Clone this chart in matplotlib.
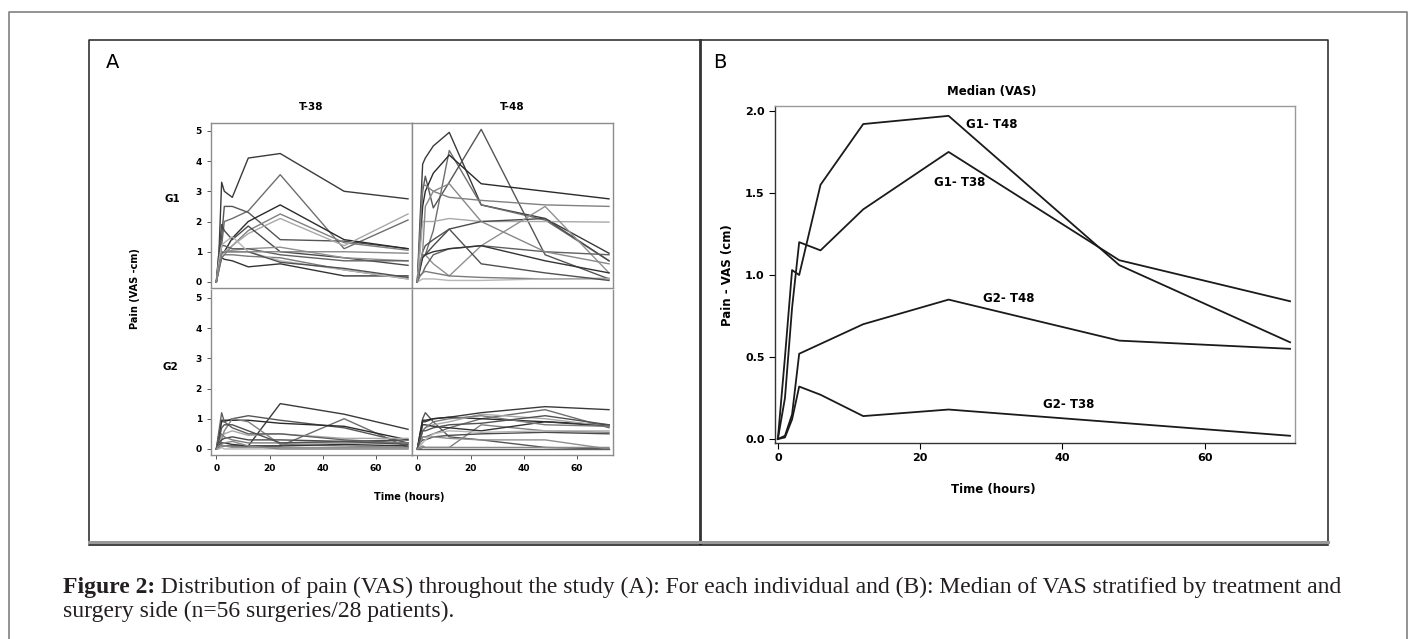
import matplotlib
matplotlib.use("Agg")
import matplotlib.pyplot as plt

W, H = 1414, 639

# time points (hours)
times = [0, 1, 2, 3, 6, 12, 24, 48, 72]

# Panel A: individual VAS curves
g1_t38 = [
    [0, 1.0, 3.3, 3.0, 2.8, 4.1, 4.25, 3.0, 2.75],
    [0, 0.5, 1.2, 2.0, 2.1, 2.35, 3.55, 1.1, 2.05],
    [0, 0.8, 1.5, 2.5, 2.5, 2.3, 1.4, 1.35, 1.1],
    [0, 0.6, 1.0, 1.0, 1.45, 2.0, 2.55, 1.4, 1.1],
    [0, 0.4, 0.8, 0.9, 1.2, 1.7, 2.25, 1.3, 1.05],
    [0, 0.5, 0.9, 1.0, 1.2, 1.6, 2.1, 1.2, 2.25],
    [0, 1.0, 1.9, 1.7, 1.4, 1.85, 1.0, 0.8, 0.55],
    [0, 0.5, 1.0, 1.0, 1.05, 1.1, 1.15, 0.8, 0.7],
    [0, 0.6, 1.2, 1.2, 1.1, 1.1, 0.9, 0.7, 0.7],
    [0, 0.5, 0.8, 0.75, 0.7, 0.5, 0.6, 0.2, 0.2],
    [0, 0.4, 0.8, 0.9, 0.9, 0.85, 0.8, 0.4, 0.1],
    [0, 0.7, 1.2, 1.3, 1.5, 1.0, 0.7, 0.4, 0.1],
    [0, 0.5, 0.95, 1.0, 1.0, 1.0, 0.65, 0.45, 0.15],
    [0, 0.5, 1.0, 1.0, 1.0, 1.0, 1.0, 1.0, 0.95],
]
g1_t48 = [
    [0, 2.0, 3.9, 4.1, 4.5, 4.95, 2.55, 2.1, 0.95],
    [0, 0.5, 0.9, 0.9, 1.7, 4.35, 2.55, 2.05, 0.7],
    [0, 1.5, 3.0, 3.5, 2.45, 3.3, 5.05, 0.9, 0.1],
    [0, 1.2, 2.5, 3.0, 3.6, 4.2, 3.25, 3.0, 2.75],
    [0, 1.6, 3.2, 3.2, 3.0, 2.8, 2.7, 2.55, 2.5],
    [0, 1.0, 2.0, 2.0, 2.0, 2.1, 2.0, 2.0, 1.98],
    [0, 0.5, 0.9, 0.9, 1.2, 1.75, 2.0, 2.1, 0.7],
    [0, 0.5, 0.9, 0.9, 0.6, 0.2, 1.2, 2.5, 0.3],
    [0, 0.2, 0.3, 0.5, 0.9, 1.1, 1.2, 1.0, 0.9],
    [0, 0.4, 0.8, 0.9, 1.0, 1.1, 1.2, 0.7, 0.3],
    [0, 0.2, 0.3, 0.35, 0.3, 0.2, 0.15, 0.1, 0.12],
    [0, 0.05, 0.1, 0.1, 0.1, 0.05, 0.05, 0.1, 0.1],
    [0, 0.5, 1.0, 1.2, 1.4, 1.75, 0.6, 0.3, 0.05],
    [0, 0.6, 1.0, 2.5, 3.0, 3.25, 2.0, 1.0, 0.6],
]
g2_t38 = [
    [0, 0.05, 0.1, 0.1, 0.1, 0.1, 1.5, 1.15, 0.65],
    [0, 0.05, 0.1, 0.1, 0.1, 0.1, 0.1, 1.0, 0.05],
    [0, 0.4, 0.9, 0.9, 1.0, 1.1, 0.95, 0.7, 0.2],
    [0, 0.5, 0.95, 0.95, 0.95, 0.95, 0.85, 0.75, 0.3],
    [0, 0.1, 0.3, 0.6, 1.0, 0.9, 0.15, 0.1, 0.05],
    [0, 0.2, 0.4, 0.5, 0.6, 0.45, 0.5, 0.35, 0.35],
    [0, 0.2, 0.3, 0.35, 0.4, 0.3, 0.3, 0.25, 0.3],
    [0, 0.05, 0.1, 0.1, 0.05, 0.05, 0.05, 0.05, 0.05],
    [0, 0.6, 1.2, 0.9, 0.7, 0.5, 0.5, 0.3, 0.2],
    [0, 0.1, 0.2, 0.2, 0.15, 0.1, 0.1, 0.15, 0.1],
    [0, 0.3, 0.5, 0.4, 0.3, 0.2, 0.2, 0.2, 0.2],
    [0, 0.0, 0.05, 0.0, 0.0, 0.0, 0.0, 0.0, 0.0],
    [0, 0.3, 0.7, 0.8, 0.8, 0.6, 0.2, 0.25, 0.15],
    [0, 0.1, 0.15, 0.2, 0.25, 0.1, 0.0, 0.0, 0.0],
]
g2_t48 = [
    [0, 0.4, 0.9, 0.9, 1.0, 1.05, 1.2, 1.4, 1.3],
    [0, 0.2, 0.4, 0.4, 0.5, 0.7, 1.0, 1.3, 0.7],
    [0, 0.5, 1.0, 1.2, 0.9, 0.4, 0.3, 0.05, 0.0],
    [0, 0.5, 0.95, 0.95, 1.0, 1.05, 1.0, 0.9, 0.8],
    [0, 0.0, 0.05, 0.05, 0.05, 0.05, 0.8, 0.6, 0.55],
    [0, 0.3, 0.6, 0.7, 0.8, 0.9, 1.15, 1.0, 0.75],
    [0, 0.2, 0.3, 0.3, 0.4, 0.45, 0.5, 0.55, 0.5],
    [0, 0.2, 0.4, 0.4, 0.4, 0.35, 0.3, 0.3, 0.0],
    [0, 0, 0, 0, 0, 0, 0, 0, 0],
    [0, 0.4, 0.8, 0.8, 0.75, 0.7, 0.6, 0.9, 0.75],
    [0, 0.3, 0.6, 0.7, 0.9, 1.0, 1.1, 0.8, 0.75],
    [0, 0.1, 0.2, 0.3, 0.5, 0.6, 0.55, 0.6, 0.6],
    [0, 0.3, 0.6, 0.6, 0.7, 0.8, 0.85, 1.1, 0.8],
    [0, 0.05, 0.1, 0.05, 0.05, 0.05, 0.05, 0.05, 0.05],
]

# Panel B: medians
median_labels = ["G1- T48", "G1- T38", "G2- T48", "G2- T38"]
median_g1_t48 = [0, 0.5, 1.03, 1.0, 1.55, 1.92, 1.97, 1.06, 0.59]
median_g1_t38 = [0, 0.25, 0.8, 1.2, 1.15, 1.4, 1.75, 1.09, 0.84]
median_g2_t48 = [0, 0.02, 0.15, 0.52, 0.58, 0.70, 0.85, 0.60, 0.55]
median_g2_t38 = [0, 0.01, 0.12, 0.32, 0.27, 0.14, 0.18, 0.10, 0.02]

grays = ["#3a3a3a", "#6e6e6e", "#555555", "#2a2a2a", "#808080", "#a8a8a8",
         "#4a4a4a", "#909090", "#606060", "#333333", "#7a7a7a", "#b5b5b5",
         "#505050", "#888888"]

NARROW = ["Liberation Sans Narrow", "DejaVu Sans"]
SERIF = ["Liberation Serif", "DejaVu Serif"]


def box(l, t, r, b):
    return [l / W, 1 - b / H, (r - l) / W, (b - t) / H]


def ftext(x, y, s, **kw):
    # text placed by pixel position, drawn on top of all axes
    return fig.text(x / W, 1 - y / H, s, **kw)


fig = plt.figure(figsize=(W / 100, H / 100), dpi=100)

# overlay for frames (pixel coordinates)
ov = fig.add_axes([0, 0, 1, 1], zorder=-1)
ov.set_xlim(0, W)
ov.set_ylim(H, 0)
ov.axis("off")

# outer border
ov.plot([9, 9, 1407, 1407], [H + 5, 12, 12, H + 5], color="#8a8a8a", lw=1.3)
# panel box
ov.plot([89, 89, 1328, 1328], [543, 40, 40, 543], color="#222222", lw=1.1)
ov.plot([700, 700], [40, 543], color="#333333", lw=2.0)
ov.plot([89, 1328], [542, 542], color="#999999", lw=2.2)
ov.plot([89, 1328], [545, 545], color="#111111", lw=1.1)

ftext(106, 63, "A", fontsize=14, family="DejaVu Sans", va="center", ha="left")
ftext(713, 63, "B", fontsize=14, family="DejaVu Sans", va="center", ha="left")

# ---- Panel A ----
cols = [(211, 412), (412, 613)]
rows = [(123, 288), (290, 455)]
panel_data = [[g1_t38, g1_t48], [g2_t38, g2_t48]]
frame_c = "#8c8c8c"
for ri, (top, bot) in enumerate(rows):
    for ci, (left, right) in enumerate(cols):
        ax = fig.add_axes(box(left, top, right, bot))
        for k, series in enumerate(panel_data[ri][ci]):
            ax.plot(times, series, color=grays[k % len(grays)], lw=1.0)
        ax.set_xlim(-2, 73.5)
        ax.set_ylim(-0.2, 5.26)
        ax.set_yticks([0, 1, 2, 3, 4, 5])
        ax.set_xticks([0, 20, 40, 60])
        for s in ax.spines.values():
            s.set_color(frame_c)
            s.set_linewidth(1.0)
        if ri == 1:
            ax.spines["top"].set_visible(False)
        ax.tick_params(direction="out", length=3, width=0.7, color="#555555",
                       labelsize=6.5)
        for lab in ax.get_xticklabels() + ax.get_yticklabels():
            lab.set_fontweight("bold")
            lab.set_family(NARROW)
        if ci == 1:
            ax.tick_params(axis="y", left=False, labelleft=False)
        if ri == 0:
            ax.tick_params(axis="x", bottom=False, labelbottom=False)

ftext(311.5, 107, "T-38", fontsize=7.5, weight="bold", family=NARROW, ha="center", va="center")
ftext(512.5, 107, "T-48", fontsize=7.5, weight="bold", family=NARROW, ha="center", va="center")
ftext(172, 199, "G1", fontsize=7.5, weight="bold", family=NARROW, ha="center", va="center")
ftext(170, 367, "G2", fontsize=7.5, weight="bold", family=NARROW, ha="center", va="center")
ftext(135, 289, "Pain (VAS -cm)", fontsize=7, weight="bold", family=NARROW,
      rotation=90, ha="center", va="center")
ftext(409, 497, "Time (hours)", fontsize=7, weight="bold", family=NARROW,
      ha="center", va="center")

# ---- Panel B ----
axb = fig.add_axes(box(775, 106, 1295, 443))
medians = [median_g1_t48, median_g1_t38, median_g2_t48, median_g2_t38]
for series in medians:
    axb.plot(times, series, color="#1a1a1a", lw=1.3)
axb.set_xlim(-0.4, 72.7)
axb.set_ylim(-0.024, 2.03)
axb.set_xticks([0, 20, 40, 60])
axb.set_yticks([0.0, 0.5, 1.0, 1.5, 2.0])
axb.set_yticklabels(["0.0", "0.5", "1.0", "1.5", "2.0"])
for side in ["top", "right"]:
    axb.spines[side].set_color("#9a9a9a")
for side in ["left", "bottom"]:
    axb.spines[side].set_color("#333333")
for s in axb.spines.values():
    s.set_linewidth(1.0)
axb.tick_params(direction="out", length=4, width=0.8, labelsize=8)
for lab in axb.get_xticklabels() + axb.get_yticklabels():
    lab.set_fontweight("bold")
    lab.set_family(NARROW)

label_pos = [(992, 124), (960, 182), (1009, 298), (1069, 405)]
for name, (lx, ly) in zip(median_labels, label_pos):
    ftext(lx, ly, name, fontsize=8.5, weight="bold", family=NARROW,
          ha="center", va="center")

ftext(992, 92, "Median (VAS)", fontsize=8.5, weight="bold", family=NARROW,
      ha="center", va="center")
ftext(727, 275, "Pain - VAS (cm)", fontsize=8.5, weight="bold", family=NARROW,
      rotation=90, ha="center", va="center")
ftext(993, 490, "Time (hours)", fontsize=8.5, weight="bold", family=NARROW,
      ha="center", va="center")

# ---- Caption ----
cap_size = 17
rest1 = (" Distribution of pain (VAS) throughout the study (A): For each individual"
         " and (B): Median of VAS stratified by treatment and")
t1 = ov.text(63, 587, "Figure 2:", fontsize=cap_size, weight="bold", family=SERIF,
             va="center", ha="left", color="#231f20")
fig.canvas.draw()
ext = t1.get_window_extent(fig.canvas.get_renderer())
x_after = ext.x1  # overlay data x equals pixel x
ov.text(x_after, 587, rest1, fontsize=cap_size, family=SERIF,
        va="center", ha="left", color="#231f20")
ov.text(63, 611, "surgery side (n=56 surgeries/28 patients).", fontsize=cap_size,
        family=SERIF, va="center", ha="left", color="#231f20")

fig.savefig("out.png", dpi=100)
